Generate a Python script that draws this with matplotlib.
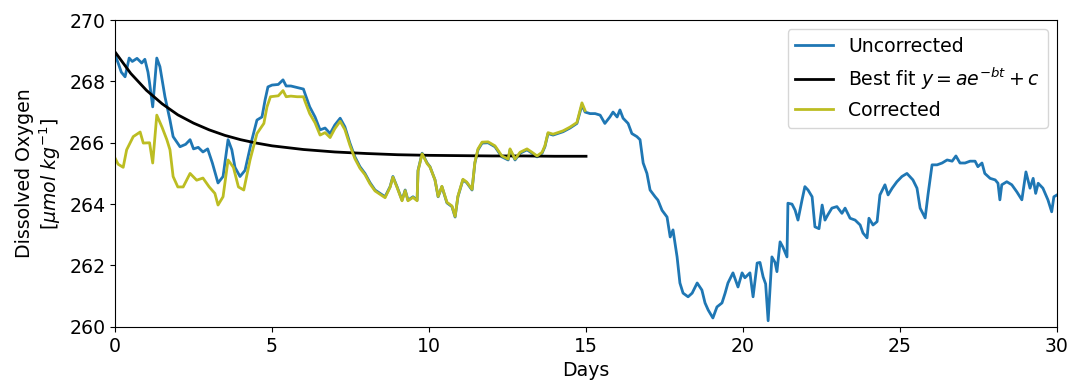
import numpy as np
import matplotlib
matplotlib.use('Agg')
import matplotlib.pyplot as plt

# uncorrected oxygen (days, umol/kg)
raw_days = [0.00, 0.10, 0.20, 0.32, 0.45, 0.55, 0.70, 0.85, 0.95, 1.05, 1.10, 1.20, 1.33, 1.43,
            1.59, 1.75, 1.85, 2.07, 2.25, 2.39, 2.50, 2.65, 2.80, 2.95, 3.10, 3.28, 3.44, 3.60,
            3.72, 3.82, 3.98, 4.14, 4.36, 4.52, 4.68, 4.78, 4.87, 5.00, 5.20, 5.35, 5.45, 5.60,
            5.80, 6.00, 6.05, 6.20, 6.37, 6.53, 6.69, 6.85, 7.00, 7.17, 7.32, 7.48, 7.64, 7.80,
            7.96, 8.12, 8.28, 8.44, 8.60, 8.76, 8.85, 8.98, 9.14, 9.24, 9.33, 9.49, 9.62, 9.65,
            9.78, 9.94, 10.03, 10.19, 10.29, 10.41, 10.57, 10.73, 10.83, 10.92, 11.08, 11.20,
            11.37, 11.46, 11.56, 11.69, 11.88, 12.10, 12.32, 12.52, 12.58, 12.74, 12.90, 13.12,
            13.28, 13.44, 13.60, 13.69, 13.79, 13.95, 14.10, 14.27, 14.49, 14.71, 14.87, 14.97,
            15.13, 15.29, 15.45, 15.60, 15.76, 15.86, 15.99, 16.08, 16.18, 16.34, 16.46, 16.62,
            16.72, 16.82, 16.94, 17.04, 17.20, 17.29, 17.42, 17.58, 17.68, 17.77, 17.90, 17.99,
            18.09, 18.25, 18.38, 18.54, 18.69, 18.79, 18.89, 19.04, 19.17, 19.33, 19.43, 19.52,
            19.68, 19.84, 19.97, 20.06, 20.22, 20.32, 20.45, 20.54, 20.64, 20.72, 20.80, 20.92,
            21.02, 21.08, 21.18, 21.27, 21.40, 21.43, 21.56, 21.66, 21.75, 21.88, 21.97, 22.07,
            22.20, 22.29, 22.42, 22.52, 22.61, 22.70, 22.83, 22.99, 23.15, 23.25, 23.41, 23.57,
            23.73, 23.82, 23.95, 24.01, 24.14, 24.27, 24.36, 24.52, 24.62, 24.75, 24.90, 25.06,
            25.22, 25.41, 25.54, 25.64, 25.80, 25.89, 26.02, 26.18, 26.34, 26.50, 26.66, 26.78,
            26.91, 27.07, 27.23, 27.39, 27.48, 27.61, 27.70, 27.87, 28.03, 28.12, 28.18, 28.24,
            28.40, 28.56, 28.72, 28.88, 29.01, 29.14, 29.24, 29.32, 29.40, 29.55, 29.71, 29.83,
            29.90, 30.00]
raw_o2 = [268.86, 268.60, 268.30, 268.15, 268.76, 268.65, 268.75, 268.60, 268.72, 268.30, 267.95,
          267.17, 268.76, 268.48, 267.50, 266.74, 266.20, 265.87, 265.95, 266.10, 265.80, 265.85,
          265.70, 265.80, 265.34, 264.69, 264.90, 266.10, 265.77, 265.20, 264.90, 265.10, 266.10,
          266.74, 266.84, 267.40, 267.82, 267.88, 267.90, 268.05, 267.85, 267.85, 267.80, 267.75,
          267.60, 267.17, 266.84, 266.42, 266.48, 266.30, 266.58, 266.80, 266.52, 265.99, 265.54,
          265.22, 265.00, 264.70, 264.46, 264.35, 264.24, 264.57, 264.90, 264.57, 264.13, 264.46,
          264.13, 264.24, 264.13, 265.10, 265.66, 265.34, 265.22, 264.79, 264.24, 264.57, 264.04,
          263.92, 263.58, 264.24, 264.79, 264.70, 264.46, 265.34, 265.77, 265.99, 266.00, 265.87,
          265.54, 265.44, 265.77, 265.44, 265.66, 265.77, 265.66, 265.54, 265.66, 265.87, 266.30,
          266.25, 266.30, 266.36, 266.48, 266.63, 267.23, 267.00, 266.95, 266.95, 266.90, 266.63,
          266.84, 267.00, 266.84, 267.07, 266.80, 266.63, 266.30, 266.20, 266.10, 265.34, 265.00,
          264.46, 264.24, 264.13, 263.80, 263.58, 262.93, 263.16, 262.28, 261.43, 261.10, 260.98,
          261.10, 261.43, 261.20, 260.78, 260.55, 260.29, 260.65, 260.78, 261.10, 261.43, 261.76,
          261.30, 261.76, 261.60, 261.76, 260.98, 262.08, 262.10, 261.63, 261.40, 260.20, 262.28,
          262.10, 261.80, 262.77, 262.60, 262.28, 264.03, 264.00, 263.80, 263.48, 264.14, 264.57,
          264.46, 264.24, 263.26, 263.20, 263.97, 263.48, 263.65, 263.87, 263.92, 263.70, 263.87,
          263.54, 263.48, 263.32, 263.06, 262.90, 263.54, 263.32, 263.43, 264.30, 264.63, 264.30,
          264.52, 264.73, 264.90, 265.00, 264.79, 264.52, 263.87, 263.55, 264.30, 265.28, 265.28,
          265.34, 265.44, 265.40, 265.57, 265.34, 265.34, 265.40, 265.40, 265.22, 265.34, 265.00,
          264.84, 264.79, 264.68, 264.14, 264.63, 264.73, 264.63, 264.40, 264.14, 265.05, 264.52,
          264.84, 264.35, 264.68, 264.52, 264.14, 263.75, 264.24, 264.30]

# best fit curve, read at a few days
fit_days = [0, 0.5, 1, 1.5, 2, 2.5, 3, 3.5, 4, 4.5, 5, 6, 7, 8, 9, 10, 11, 12, 13, 14, 15]
fit_o2 = [268.96, 268.26, 267.71, 267.27, 266.91, 266.64, 266.42, 266.24, 266.10, 265.99,
          265.90, 265.78, 265.70, 265.65, 265.61, 265.59, 265.58, 265.57, 265.57, 265.56, 265.56]

# corrected series
cor_days = [0.00, 0.10, 0.26, 0.37, 0.58, 0.80, 0.90, 1.10, 1.20, 1.33, 1.50, 1.65, 1.75, 1.85,
            2.00, 2.17, 2.39, 2.60, 2.80, 3.00, 3.18, 3.28, 3.44, 3.60, 3.77, 3.93, 4.10, 4.30,
            4.52, 4.74, 4.84, 4.95, 5.20, 5.35, 5.45, 5.60, 5.80, 6.00, 6.05, 6.20, 6.37, 6.53,
            6.69, 6.85, 7.00, 7.17, 7.32, 7.48, 7.64, 7.80, 7.96, 8.12, 8.28, 8.44, 8.60, 8.76,
            8.85, 8.98, 9.14, 9.24, 9.33, 9.49, 9.62, 9.65, 9.78, 9.94, 10.03, 10.19, 10.29,
            10.41, 10.57, 10.73, 10.83, 10.92, 11.08, 11.20, 11.37, 11.46, 11.56, 11.69, 11.88,
            12.10, 12.32, 12.52, 12.58, 12.74, 12.90, 13.12, 13.28, 13.44, 13.60, 13.69, 13.79,
            13.95, 14.10, 14.27, 14.49, 14.71, 14.87, 14.97]
cor_o2 = [265.50, 265.30, 265.20, 265.77, 266.20, 266.35, 265.99, 266.00, 265.34, 266.90, 266.50,
          266.10, 265.77, 264.90, 264.56, 264.56, 265.00, 264.78, 264.85, 264.56, 264.35, 263.97,
          264.24, 265.44, 265.20, 264.56, 264.46, 265.44, 266.30, 266.63, 267.17, 267.50, 267.53,
          267.70, 267.50, 267.52, 267.50, 267.50, 267.35, 266.95, 266.65, 266.25, 266.33, 266.17,
          266.46, 266.70, 266.43, 265.92, 265.48, 265.17, 264.96, 264.66, 264.43, 264.32, 264.21,
          264.55, 264.88, 264.55, 264.11, 264.44, 264.11, 264.22, 264.11, 265.08, 265.64, 265.32,
          265.21, 264.79, 264.25, 264.58, 264.06, 263.94, 263.60, 264.26, 264.81, 264.72, 264.48,
          265.36, 265.80, 266.02, 266.03, 265.90, 265.57, 265.47, 265.80, 265.47, 265.69, 265.80,
          265.69, 265.57, 265.69, 265.90, 266.33, 266.28, 266.33, 266.39, 266.51, 266.66, 267.30,
          267.05]

plt.rcParams['font.size'] = 13.6
fig, ax = plt.subplots(figsize=(10.69, 3.85), dpi=100)
fig.subplots_adjust(left=0.1076, right=0.9888, top=0.948, bottom=0.151)

ax.plot(raw_days, raw_o2, color='#1f77b4', lw=2, label='Uncorrected')
ax.plot(fit_days, fit_o2, color='k', lw=2, label='Best fit $y = ae^{-bt} + c$')
ax.plot(cor_days, cor_o2, color='#bcbd22', lw=2, label='Corrected')

ax.set_xlim(0, 30)
ax.set_ylim(260, 270)
ax.set_xticks(np.arange(0, 31, 5))
ax.set_yticks(np.arange(260, 271, 2))
ax.set_xlabel('Days')
ax.set_ylabel('Dissolved Oxygen\n[$\\mu mol\\ kg^{-1}$]')
ax.legend(loc='upper right')

plt.savefig('out.png', dpi=100)
